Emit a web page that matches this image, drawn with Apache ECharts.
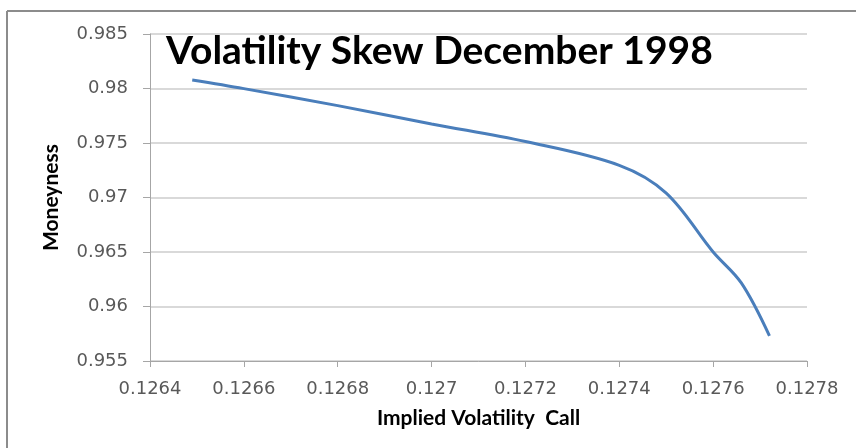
<!DOCTYPE html>
<html>
<head>
<meta charset="utf-8">
<script src="https://cdn.jsdelivr.net/npm/echarts@6/dist/echarts.min.js"></script>
<style>
html,body{margin:0;padding:0;background:#fff;}
#chart{width:856px;height:448px;}
</style>
</head>
<body>
<div id="chart"></div>
<script>
// Data
const impliedVolatility = [0.12649, 0.12660, 0.12680, 0.12700, 0.12720, 0.12740, 0.12750, 0.12760, 0.12766, 0.12772];
const moneyness        = [0.98078, 0.97999, 0.97843, 0.97675, 0.97513, 0.97295, 0.97040, 0.96500, 0.96216, 0.95730];
const xTicks = [0.1264, 0.1266, 0.1268, 0.127, 0.1272, 0.1274, 0.1276, 0.1278];
const yTicks = [0.955, 0.96, 0.965, 0.97, 0.975, 0.98, 0.985];
const titleText = 'Volatility Skew December 1998';
const xName = 'Implied Volatility  Call';
const yName = 'Moneyness';

const chart = echarts.init(document.getElementById('chart'), null, {renderer: 'canvas'});
const pts = impliedVolatility.map((x, i) => [x, moneyness[i]]);
const fmtX = v => { const m = xTicks.find(t => Math.abs(t - v) < 1e-9); return m !== undefined ? String(m) : ''; };
const fmtY = v => { const m = yTicks.find(t => Math.abs(t - v) < 1e-9); return m !== undefined ? String(m) : ''; };

chart.setOption({
  animation: false,
  backgroundColor: '#ffffff',
  title: {
    text: titleText,
    left: 161, top: 27,
    textStyle: {fontFamily: 'Lato', fontSize: 39, fontWeight: 'bold', color: '#000'}
  },
  grid: {left: 150, right: 49, top: 34, bottom: 87},
  xAxis: {
    type: 'value',
    min: xTicks[0], max: xTicks[xTicks.length - 1], interval: 0.0002,
    name: xName, nameLocation: 'middle', nameGap: 47,
    nameTextStyle: {fontFamily: 'Lato', fontSize: 21, fontWeight: 'bold', color: '#000'},
    axisLine: {show: true, lineStyle: {color: '#a6a6a6', width: 1}},
    axisTick: {show: true, inside: false, length: 6, lineStyle: {color: '#a6a6a6'}},
    axisLabel: {formatter: fmtX, margin: 19, fontFamily: 'DejaVu Sans', fontSize: 18, color: '#595959'},
    splitLine: {show: false}
  },
  yAxis: {
    type: 'value',
    min: yTicks[0], max: yTicks[yTicks.length - 1], interval: 0.005,
    name: yName, nameLocation: 'middle', nameGap: 88, nameRotate: 90,
    nameTextStyle: {fontFamily: 'Lato', fontSize: 21, fontWeight: 'bold', color: '#000'},
    axisLine: {show: true, lineStyle: {color: '#a6a6a6', width: 1}},
    axisTick: {show: true, inside: false, length: 7, lineStyle: {color: '#a6a6a6'}},
    axisLabel: {formatter: fmtY, margin: 22, fontFamily: 'DejaVu Sans', fontSize: 18, color: '#595959'},
    splitLine: {show: true, lineStyle: {color: '#d9d9d9', width: 2}}
  },
  series: [{
    type: 'line',
    data: pts,
    smooth: 0.35,
    showSymbol: false,
    lineStyle: {color: '#4a7ebb', width: 3},
    z: 5
  }],
  graphic: [
    {type: 'line', shape: {x1: 7, y1: 11, x2: 856, y2: 11}, style: {stroke: '#8c8c8c', lineWidth: 2}},
    {type: 'line', shape: {x1: 7, y1: 11, x2: 7, y2: 448}, style: {stroke: '#8c8c8c', lineWidth: 2}}
  ]
});
</script>
</body>
</html>
